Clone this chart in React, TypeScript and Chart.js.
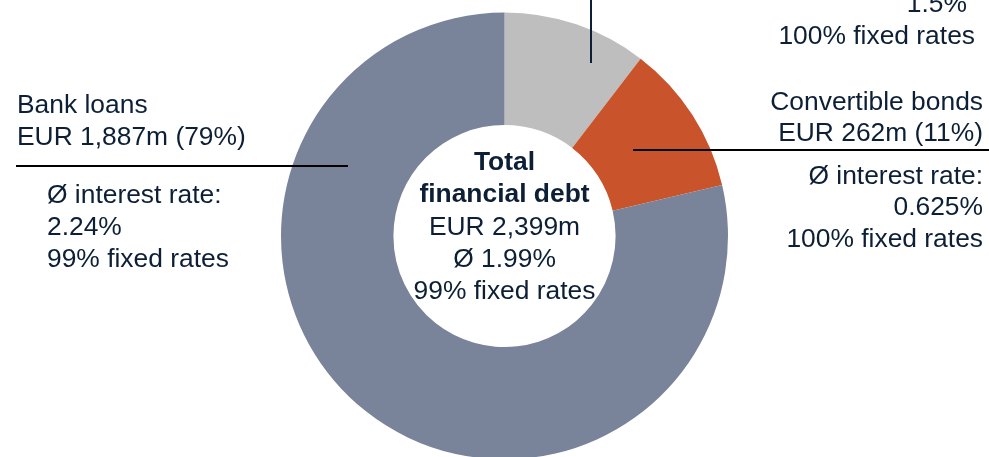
import React, { useEffect, useRef } from 'react';
import { Chart, registerables } from 'chart.js';

Chart.register(...registerables);

// Data
const categories = ['Other financial debt', 'Convertible bonds', 'Bank loans'];
const values = [250, 262, 1887];
const colors = ['#BEBEBE', '#C9532A', '#79839A'];

// Text
const centerBold = ['Total', 'financial debt'];
const centerLines = ['EUR 2,399m', 'Ø 1.99%', '99% fixed rates'];
const bankHead = ['Bank loans', 'EUR 1,887m (79%)'];
const bankDetail = ['Ø interest rate:', '2.24%', '99% fixed rates'];
const convHead = ['Convertible bonds', 'EUR 262m (11%)'];
const convDetail = ['Ø interest rate:', '0.625%', '100% fixed rates'];
const topDetail = ['1.5%', '100% fixed rates'];

const FONT = '"Liberation Sans", Arial, sans-serif';
const TEXT = '#0C1F35';
const SIZE = 26.4;
const LH = 31.8;

const labelPlugin = {
  id: 'labels',
  afterDraw(chart: any) {
    const ctx = chart.ctx as CanvasRenderingContext2D;
    const arc = chart.getDatasetMeta(0).data[0];
    const cx = arc.x;
    const cy = arc.y;
    ctx.save();
    ctx.fillStyle = TEXT;
    ctx.textBaseline = 'alphabetic';

    // center
    ctx.textAlign = 'center';
    ctx.font = `bold ${SIZE}px ${FONT}`;
    centerBold.forEach((t, i) => ctx.fillText(t, cx, cy - 66 + i * LH));
    ctx.font = `${SIZE}px ${FONT}`;
    centerLines.forEach((t, i) => ctx.fillText(t, cx, cy - 1 + i * LH));

    // bank loans (left)
    ctx.textAlign = 'left';
    bankHead.forEach((t, i) => ctx.fillText(t, 17, 113 + i * LH));
    bankDetail.forEach((t, i) => ctx.fillText(t, 47, 203 + i * LH));

    // convertible bonds (right)
    ctx.textAlign = 'right';
    convHead.forEach((t, i) => ctx.fillText(t, 983, 109.5 + i * LH));
    convDetail.forEach((t, i) => ctx.fillText(t, 983, 183.5 + i * LH));

    // top right (cut off)
    ctx.fillText(topDetail[0], 967, 12);
    ctx.fillText(topDetail[1], 975, 44);

    // leader lines
    ctx.lineWidth = 2;
    ctx.strokeStyle = '#000000';
    ctx.beginPath();
    ctx.moveTo(16, 166);
    ctx.lineTo(348, 166);
    ctx.moveTo(633, 150);
    ctx.lineTo(989, 150);
    ctx.stroke();
    ctx.strokeStyle = TEXT;
    ctx.beginPath();
    ctx.moveTo(591, 0);
    ctx.lineTo(591, 63);
    ctx.stroke();
    ctx.restore();
  },
};

export default function App() {
  const ref = useRef<HTMLCanvasElement>(null);
  useEffect(() => {
    if (!ref.current) return;
    const chart = new Chart(ref.current, {
      type: 'doughnut',
      data: {
        labels: categories,
        datasets: [
          {
            data: values,
            backgroundColor: colors,
            borderWidth: 0,
            clip: false as any,
          },
        ],
      },
      options: {
        responsive: false,
        animation: false,
        cutout: '49.7%',
        layout: { padding: { top: 12.5, bottom: 0.5, left: 20, right: 0 } },
        plugins: {
          legend: { display: false },
          tooltip: { enabled: false },
        },
      },
      plugins: [labelPlugin],
    });
    return () => chart.destroy();
  }, []);
  return (
    <div style={{ position: 'fixed', left: 0, top: 0, width: 989, height: 457, overflow: 'hidden', background: '#fff' }}>
      <canvas ref={ref} width={989} height={460} style={{ display: 'block', width: 989, height: 460 }} />
    </div>
  );
}
